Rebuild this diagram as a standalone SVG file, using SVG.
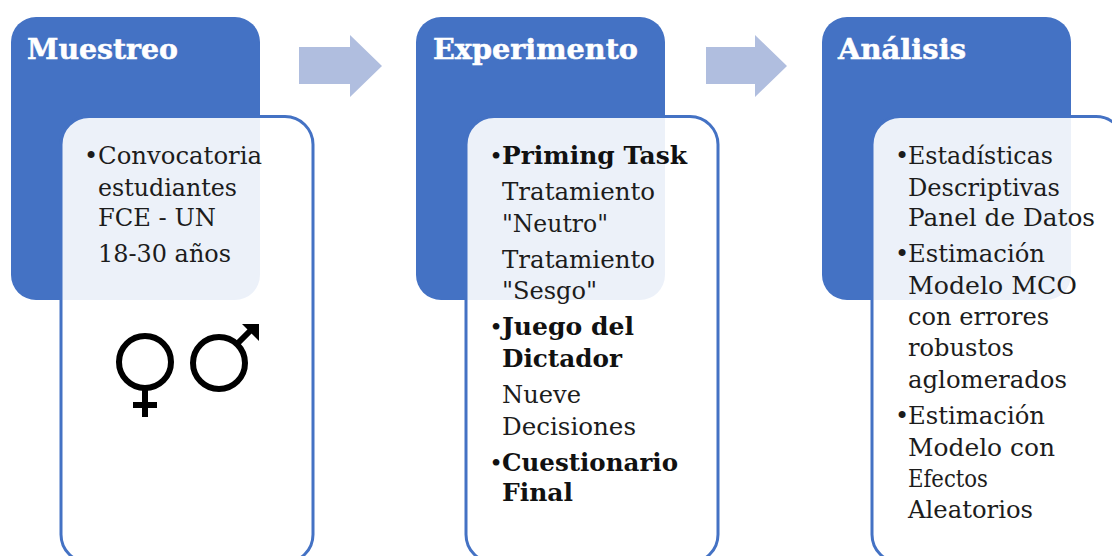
<svg xmlns="http://www.w3.org/2000/svg" width="1112" height="556" viewBox="0 0 1112 556">
<style>
.head{fill:#4472c4}
.card{fill:#fff;fill-opacity:.9;stroke:#4472c4;stroke-width:3}
.arrow{fill:#b0bedf}
text{font-family:"DejaVu Serif","Liberation Serif",serif;fill:#1c1c1c;font-size:24px}
.t{font-weight:700;font-size:27px;fill:#fff;stroke:#fff;stroke-width:.5}
.b{font-weight:700;fill:#111}
.bu{font-weight:700;fill:#111;font-size:19px}
.sym{fill:none;stroke:#000;stroke-width:6}
</style>
<g id="connectors">
<path class="arrow" d="M299 47H350V35L382 66L350 97V84H299Z"/>
<path class="arrow" d="M706 47H755V35L787 66L755 97V84H706Z"/>
</g>
<g id="muestreo">
<rect class="head" x="11" y="17" width="249" height="283" rx="25"/>
<rect class="card" x="61" y="116.500" width="252" height="446" rx="28"/>
<text class="t" x="27" y="59" textLength="151" lengthAdjust="spacingAndGlyphs">Muestreo</text>
<text x="84" y="164">•</text>
<text x="98" y="164" textLength="164" lengthAdjust="spacingAndGlyphs">Convocatoria</text>
<text x="98" y="196" textLength="139" lengthAdjust="spacingAndGlyphs">estudiantes</text>
<text x="98" y="226" textLength="118" lengthAdjust="spacingAndGlyphs">FCE - UN</text>
<text x="98" y="262" textLength="133" lengthAdjust="spacingAndGlyphs">18-30 años</text>
<g id="simbolos">
<circle class="sym" cx="145" cy="362" r="26"/>
<path class="sym" d="M145 388V417M133 405H157"/>
<circle class="sym" cx="219" cy="363" r="26"/>
<path class="sym" d="M237 344L252 329"/>
<path d="M242 324H259V341Z" fill="#000"/>
</g>
</g>
<g id="experimento">
<rect class="head" x="416" y="17" width="249" height="283" rx="25"/>
<rect class="card" x="466" y="116.500" width="252" height="446" rx="28"/>
<text class="t" x="433" y="59" textLength="205" lengthAdjust="spacingAndGlyphs">Experimento</text>
<text class="bu" x="490" y="162">•</text>
<text class="b" x="502" y="164" textLength="185" lengthAdjust="spacingAndGlyphs">Priming Task</text>
<text x="502" y="200" textLength="153" lengthAdjust="spacingAndGlyphs">Tratamiento</text>
<text x="502" y="232" textLength="106" lengthAdjust="spacingAndGlyphs">"Neutro"</text>
<text x="502" y="268" textLength="153" lengthAdjust="spacingAndGlyphs">Tratamiento</text>
<text x="502" y="299" textLength="95" lengthAdjust="spacingAndGlyphs">"Sesgo"</text>
<text class="bu" x="490" y="333">•</text>
<text class="b" x="502" y="335" textLength="132" lengthAdjust="spacingAndGlyphs">Juego del</text>
<text class="b" x="502" y="367" textLength="120" lengthAdjust="spacingAndGlyphs">Dictador</text>
<text x="502" y="403" textLength="79" lengthAdjust="spacingAndGlyphs">Nueve</text>
<text x="502" y="435" textLength="134" lengthAdjust="spacingAndGlyphs">Decisiones</text>
<text class="bu" x="490" y="469">•</text>
<text class="b" x="502" y="471" textLength="176" lengthAdjust="spacingAndGlyphs">Cuestionario</text>
<text class="b" x="502" y="501" textLength="71" lengthAdjust="spacingAndGlyphs">Final</text>
</g>
<g id="analisis">
<rect class="head" x="822" y="17" width="249" height="283" rx="25"/>
<rect class="card" x="872" y="116.500" width="252" height="446" rx="28"/>
<text class="t" x="838" y="59" textLength="128" lengthAdjust="spacingAndGlyphs">Análisis</text>
<text x="895" y="164">•</text>
<text x="908" y="164" textLength="145" lengthAdjust="spacingAndGlyphs">Estadísticas</text>
<text x="908" y="196" textLength="152" lengthAdjust="spacingAndGlyphs">Descriptivas</text>
<text x="908" y="226" textLength="187" lengthAdjust="spacingAndGlyphs">Panel de Datos</text>
<text x="895" y="262">•</text>
<text x="908" y="262" textLength="137" lengthAdjust="spacingAndGlyphs">Estimación</text>
<text x="908" y="294" textLength="169" lengthAdjust="spacingAndGlyphs">Modelo MCO</text>
<text x="908" y="325" textLength="141" lengthAdjust="spacingAndGlyphs">con errores</text>
<text x="908" y="356" textLength="106" lengthAdjust="spacingAndGlyphs">robustos</text>
<text x="908" y="388" textLength="159" lengthAdjust="spacingAndGlyphs">aglomerados</text>
<text x="895" y="424">•</text>
<text x="908" y="424" textLength="137" lengthAdjust="spacingAndGlyphs">Estimación</text>
<text x="908" y="456" textLength="147" lengthAdjust="spacingAndGlyphs">Modelo con</text>
<text x="908" y="487" textLength="80" lengthAdjust="spacingAndGlyphs">Efectos</text>
<text x="908" y="518" textLength="125" lengthAdjust="spacingAndGlyphs">Aleatorios</text>
</g>
</svg>
